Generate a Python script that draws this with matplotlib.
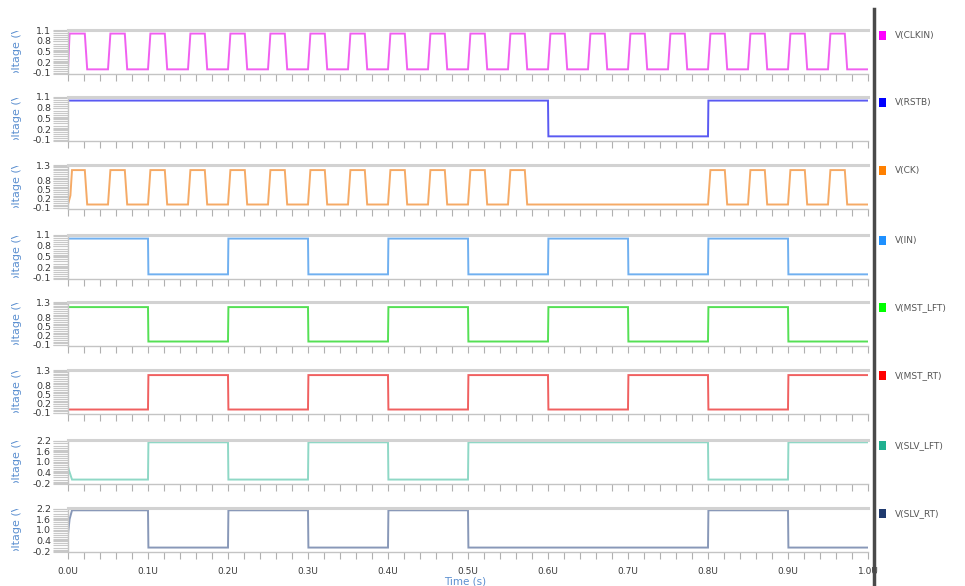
import matplotlib
matplotlib.use("Agg")
import matplotlib.pyplot as plt
from matplotlib.patches import Rectangle
from matplotlib.transforms import Bbox, TransformedBbox
from matplotlib.ticker import MultipleLocator, FixedLocator

# ---------------- data (times in microseconds, volts) ----------------
signals = ["V(CLKIN)", "V(RSTB)", "V(CK)", "V(IN)",
           "V(MST_LFT)", "V(MST_RT)", "V(SLV_LFT)", "V(SLV_RT)"]

# toggle times for each waveform (first level given by start_high)
clkin_toggles = [0.021, 0.050, 0.071, 0.100, 0.121, 0.150, 0.171, 0.200,
                 0.221, 0.250, 0.271, 0.300, 0.321, 0.350, 0.371, 0.400,
                 0.421, 0.450, 0.471, 0.500, 0.521, 0.550, 0.571, 0.600,
                 0.621, 0.650, 0.671, 0.700, 0.721, 0.750, 0.771, 0.800,
                 0.821, 0.850, 0.871, 0.900, 0.921, 0.950, 0.971]
rstb_toggles = [0.6, 0.8]
ck_toggles = [0.021, 0.050, 0.071, 0.100, 0.121, 0.150, 0.171, 0.200,
              0.221, 0.250, 0.271, 0.300, 0.321, 0.350, 0.371, 0.400,
              0.421, 0.450, 0.471, 0.500, 0.521, 0.550, 0.571,
              0.800, 0.821, 0.850, 0.871, 0.900, 0.921, 0.950, 0.971]
in_toggles = [0.1, 0.2, 0.3, 0.4, 0.5, 0.6, 0.7, 0.8, 0.9]
mst_lft_toggles = [0.1, 0.2, 0.3, 0.4, 0.5, 0.6, 0.7, 0.8, 0.9]
mst_rt_toggles = [0.1, 0.2, 0.3, 0.4, 0.5, 0.6, 0.7, 0.8, 0.9]
slv_lft_toggles = [0.1, 0.2, 0.3, 0.4, 0.5, 0.8, 0.9]
slv_rt_toggles = [0.1, 0.2, 0.3, 0.4, 0.5, 0.8, 0.9]

start_high = [True, True, True, True, True, False, False, True]
low_levels = [0.0, 0.0, 0.0, 0.0, 0.0, 0.0, 0.0, 0.0]
high_levels = [1.0, 1.0, 1.15, 1.0, 1.15, 1.15, 2.1, 2.1]
edge_times = [0.003, 0.0005, 0.003, 0.0005, 0.0005, 0.0005, 0.0005, 0.0005]

# start-up transients (time, volts)
clkin_init_t = [0.0, 0.002]
clkin_init_v = [0.0, 1.0]
ck_init_t = [0.0, 0.003, 0.005]
ck_init_v = [0.0, 0.3, 1.15]
slv_lft_init_t = [0.0, 0.001, 0.005]
slv_lft_init_v = [0.75, 0.55, 0.0]
slv_rt_init_t = [0.0, 0.002, 0.005]
slv_rt_init_v = [0.75, 1.6, 2.1]

toggles = [clkin_toggles, rstb_toggles, ck_toggles, in_toggles,
           mst_lft_toggles, mst_rt_toggles, slv_lft_toggles, slv_rt_toggles]
inits = [(clkin_init_t, clkin_init_v), None, (ck_init_t, ck_init_v), None,
         None, None, (slv_lft_init_t, slv_lft_init_v),
         (slv_rt_init_t, slv_rt_init_v)]

# axes scales
ylims = [(-0.13, 1.1), (-0.13, 1.1), (-0.15, 1.32), (-0.13, 1.1),
         (-0.15, 1.32), (-0.15, 1.32), (-0.25, 2.23), (-0.25, 2.23)]
yticks_a = [-0.1, 0.2, 0.5, 0.8, 1.1]
yticks_b = [-0.1, 0.2, 0.5, 0.8, 1.3]
yticks_c = [-0.2, 0.4, 1.0, 1.6, 2.2]
yticks = [yticks_a, yticks_a, yticks_b, yticks_a, yticks_b, yticks_b,
          yticks_c, yticks_c]
xtick_vals = [0.0, 0.1, 0.2, 0.3, 0.4, 0.5, 0.6, 0.7, 0.8, 0.9, 1.0]
xtick_labels = ["0.0U", "0.1U", "0.2U", "0.3U", "0.4U", "0.5U",
                "0.6U", "0.7U", "0.8U", "0.9U", "1.0U"]

line_colors = ["#f060f0", "#5a5af2", "#f5aa66", "#70b0f0",
               "#55e055", "#f06060", "#8fd8c6", "#8898b8"]
legend_colors = ["#ff00ff", "#0000ff", "#ff8000", "#1e90ff",
                 "#00ff00", "#ff0000", "#20b090", "#1f3a6e"]


def build(start_hi, tog, lo, hi, edge, init):
    cur = hi if start_hi else lo
    if init is not None:
        t = list(init[0])
        v = list(init[1])
    else:
        t = [0.0]
        v = [cur]
    for tt in tog:
        nxt = lo if cur == hi else hi
        t += [tt, tt + edge]
        v += [cur, nxt]
        cur = nxt
    t.append(1.0)
    v.append(cur)
    return t, v


# ---------------- figure ----------------
W, H = 965, 586
fig = plt.figure(figsize=(W / 100, H / 100), dpi=100)
fig.patch.set_facecolor("white")

left_px, right_px = 68, 868
panel_h = 44
tops = [30, 97, 165, 235, 302, 370, 440, 508]

tick_gray = "#b0b0b0"
label_col = "#3a3a3a"
blue_txt = "#5b8fd0"

for i in range(8):
    top = tops[i]
    ax = fig.add_axes([left_px / W, 1 - (top + panel_h) / H,
                       (right_px - left_px) / W, panel_h / H])
    t, v = build(start_high[i], toggles[i], low_levels[i], high_levels[i],
                 edge_times[i], inits[i])
    ax.plot(t, v, color=line_colors[i], lw=1.4, solid_joinstyle="miter")
    ax.set_xlim(0, 1.0)
    ax.set_ylim(*ylims[i])
    ax.spines["right"].set_visible(False)
    ax.spines["top"].set_color("#d2d2d2")
    ax.spines["top"].set_linewidth(2.2)
    ax.spines["bottom"].set_color("#c4c4c4")
    ax.spines["bottom"].set_linewidth(1.0)
    ax.spines["left"].set_color("#c4c4c4")
    ax.spines["left"].set_linewidth(1.0)

    ax.xaxis.set_major_locator(FixedLocator(xtick_vals))
    ax.xaxis.set_minor_locator(MultipleLocator(0.02))
    ax.tick_params(axis="x", which="both", direction="out", length=5,
                   color=tick_gray, width=0.8, pad=6)
    if i == 7:
        ax.set_xticklabels(xtick_labels, fontsize=6.5, color=label_col)
    else:
        ax.set_xticklabels([])

    ax.yaxis.set_major_locator(FixedLocator(yticks[i]))
    step = (yticks[i][1] - yticks[i][0]) / 5.0
    ax.yaxis.set_minor_locator(MultipleLocator(step))
    ax.tick_params(axis="y", which="both", direction="out", length=11,
                   color="#c8c8c8", width=0.8, pad=1)
    ax.set_yticklabels([f"{y:.1f}" for y in yticks[i]], fontsize=6.8,
                       color=label_col)

    # y label, clipped to the panel's vertical extent
    yc = 1 - (top + panel_h / 2) / H
    txt = fig.text(17.5 / W, yc, "Voltage (V)", rotation=90, ha="center",
                   va="center", fontsize=8, color=blue_txt)
    clip = TransformedBbox(Bbox([[0, 1 - (top + panel_h - 1) / H],
                                 [40 / W, 1 - (top + 1) / H]]),
                           fig.transFigure)
    txt.set_clip_box(clip)
    txt.set_clip_on(True)

    # legend entry
    ly = top + 5
    fig.add_artist(Rectangle((879 / W, 1 - (ly + 5) / H), 7 / W, 9 / H,
                             transform=fig.transFigure,
                             facecolor=legend_colors[i], edgecolor="none"))
    fig.text(895 / W, 1 - (ly + 0.5) / H, signals[i], fontsize=6.5,
             color="#555555", va="center", ha="left")

# separator line
fig.add_artist(plt.Line2D([873.5 / W, 873.5 / W], [0, 1 - 9 / H],
                          transform=fig.transFigure, color="#4a4a4a", lw=2.5))

# x axis title
fig.text(465 / W, 1 - 581 / H, "Time (s)", fontsize=7.5, color=blue_txt,
         ha="center", va="center")

fig.savefig("out.png", dpi=100, facecolor="white")
